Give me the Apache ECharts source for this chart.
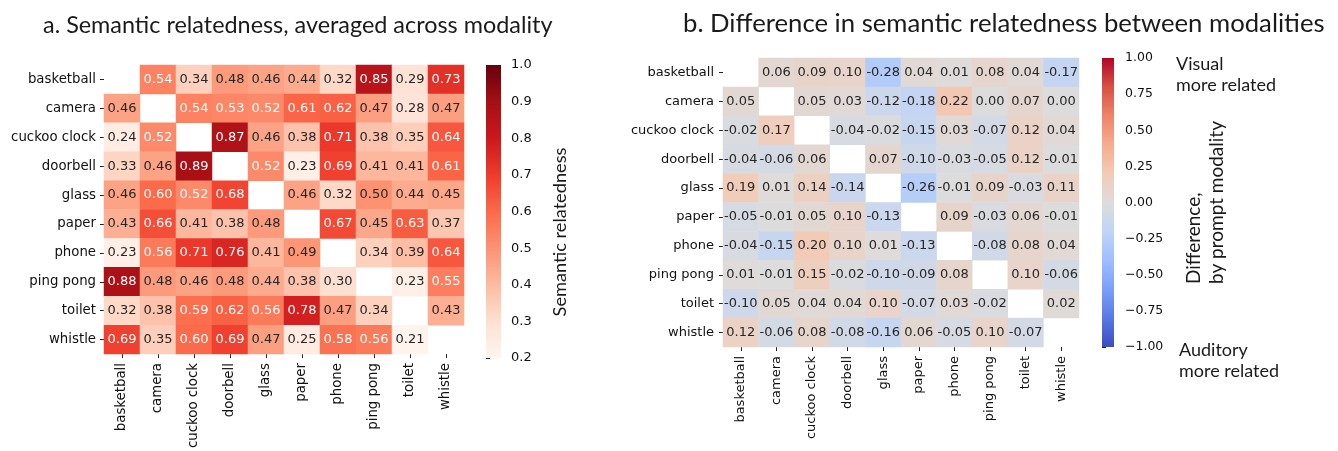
<!DOCTYPE html>
<html>
<head>
<meta charset="utf-8">
<script src="https://cdn.jsdelivr.net/npm/echarts@6/dist/echarts.min.js"></script>
<style>
  html, body { margin: 0; padding: 0; background: #ffffff; }
  #chart { width: 1338px; height: 451px; }
</style>
</head>
<body>
<div id="chart"></div>
<script>
// Object categories shared by both matrices (rows and columns)
const categories = ['basketball', 'camera', 'cuckoo clock', 'doorbell', 'glass',
  'paper', 'phone', 'ping pong', 'toilet', 'whistle'];

// a. Semantic relatedness averaged across modality (null = diagonal, not shown)
const relatedness = [
  [null, 0.54, 0.34, 0.48, 0.46, 0.44, 0.32, 0.85, 0.29, 0.73],
  [0.46, null, 0.54, 0.53, 0.52, 0.61, 0.62, 0.47, 0.28, 0.47],
  [0.24, 0.52, null, 0.87, 0.46, 0.38, 0.71, 0.38, 0.35, 0.64],
  [0.33, 0.46, 0.89, null, 0.52, 0.23, 0.69, 0.41, 0.41, 0.61],
  [0.46, 0.60, 0.52, 0.68, null, 0.46, 0.32, 0.50, 0.44, 0.45],
  [0.43, 0.66, 0.41, 0.38, 0.48, null, 0.67, 0.45, 0.63, 0.37],
  [0.23, 0.56, 0.71, 0.76, 0.41, 0.49, null, 0.34, 0.39, 0.64],
  [0.88, 0.48, 0.46, 0.48, 0.44, 0.38, 0.30, null, 0.23, 0.55],
  [0.32, 0.38, 0.59, 0.62, 0.56, 0.78, 0.47, 0.34, null, 0.43],
  [0.69, 0.35, 0.60, 0.69, 0.47, 0.25, 0.58, 0.56, 0.21, null]
];

// b. Difference (visual minus auditory prompt) in semantic relatedness
const difference = [
  [null, 0.06, 0.09, 0.10, -0.28, 0.04, 0.01, 0.08, 0.04, -0.17],
  [0.05, null, 0.05, 0.03, -0.12, -0.18, 0.22, 0.00, 0.07, 0.00],
  [-0.02, 0.17, null, -0.04, -0.02, -0.15, 0.03, -0.07, 0.12, 0.04],
  [-0.04, -0.06, 0.06, null, 0.07, -0.10, -0.03, -0.05, 0.12, -0.01],
  [0.19, 0.01, 0.14, -0.14, null, -0.26, -0.01, 0.09, -0.03, 0.11],
  [-0.05, -0.01, 0.05, 0.10, -0.13, null, 0.09, -0.03, 0.06, -0.01],
  [-0.04, -0.15, 0.20, 0.10, 0.01, -0.13, null, -0.08, 0.08, 0.04],
  [0.01, -0.01, 0.15, -0.02, -0.10, -0.09, 0.08, null, 0.10, -0.06],
  [-0.10, 0.05, 0.04, 0.04, 0.10, -0.07, 0.03, -0.02, null, 0.02],
  [0.12, -0.06, 0.08, -0.08, -0.16, 0.06, -0.05, 0.10, -0.07, null]
];

// Colour-scale ranges and tick spacing
const relRange = [0.2, 1.0];
const relTickStep = 0.1;
const diffRange = [-1.0, 1.0];
const diffTickStep = 0.25;

// Colour maps (sequential reds, diverging cool-warm)
const redsStops = ['#fff5f0', '#fee0d2', '#fcbba1', '#fc9272', '#fb6a4a',
  '#ef3b2c', '#cb181d', '#a50f15', '#67000d'];
const coolwarmStops = ['#3b4cc0', '#5a78e4', '#7b9ff9', '#9ebeff', '#c0d4f5',
  '#dddcdc', '#f2cbb7', '#f7ac8e', '#ee8468', '#d65244', '#b40426'];

const TICK_FONT = 'DejaVu Sans';
const TEXT_FONT = 'Lato';
const DARK = '#262626';

function hexToRgb(h) {
  return [parseInt(h.slice(1, 3), 16), parseInt(h.slice(3, 5), 16), parseInt(h.slice(5, 7), 16)];
}
function sampleMap(stops, t) {
  t = Math.max(0, Math.min(1, t));
  const n = stops.length - 1;
  const i = Math.min(n - 1, Math.floor(t * n));
  const f = t * n - i;
  const a = hexToRgb(stops[i]), b = hexToRgb(stops[i + 1]);
  return a.map((c, k) => c + (b[k] - c) * f);
}
// Pick dark or white annotation text from the cell's luminance
function textColorFor(stops, range, v) {
  const rgb = sampleMap(stops, (v - range[0]) / (range[1] - range[0])).map(c => {
    c /= 255;
    return c <= 0.03928 ? c / 12.92 : Math.pow((c + 0.055) / 1.055, 2.4);
  });
  const lum = 0.2126 * rgb[0] + 0.7152 * rgb[1] + 0.0722 * rgb[2];
  return lum > 0.408 ? DARK : '#ffffff';
}
function cells(matrix, stops, range) {
  const out = [];
  matrix.forEach((row, i) => row.forEach((v, j) => {
    if (v === null) return;
    out.push({ value: [j, i, v], label: { color: textColorFor(stops, range, v) } });
  }));
  return out;
}
function fmtMinus(s) { return s.replace('-', '\u2212'); }

function heatXAxis(gridIndex, margin, fontSize) {
  return {
    type: 'category', gridIndex, data: categories,
    axisLine: { show: false }, splitLine: { show: false },
    axisTick: { show: true, alignWithLabel: true, length: 4, lineStyle: { color: '#222', width: 1 } },
    axisLabel: { rotate: 90, margin, color: '#111', fontFamily: TICK_FONT, fontSize }
  };
}
function heatYAxis(gridIndex, margin, fontSize) {
  return {
    type: 'category', gridIndex, data: categories, inverse: true,
    axisLine: { show: false }, splitLine: { show: false },
    axisTick: { show: true, alignWithLabel: true, length: 4, lineStyle: { color: '#222', width: 1 } },
    axisLabel: { margin, color: '#111', fontFamily: TICK_FONT, fontSize }
  };
}
function barXAxis(gridIndex) {
  return { type: 'value', gridIndex, min: 0, max: 1, show: false };
}
function barYAxis(gridIndex, range, step, digits, fontSize, margin) {
  return {
    type: 'value', gridIndex, position: 'right', min: range[0], max: range[1], interval: step,
    axisLine: { show: false }, splitLine: { show: false },
    axisTick: { show: true, length: 4, lineStyle: { color: '#222', width: 1 } },
    axisLabel: {
      margin, color: '#111', fontFamily: TICK_FONT, fontSize,
      formatter: v => fmtMinus((Math.round(v / step) * step).toFixed(digits))
    }
  };
}
// Colour bar drawn as a gradient rectangle spanning the scale's range
function colorBar(xAxisIndex, yAxisIndex, stops, range) {
  return {
    type: 'custom', xAxisIndex, yAxisIndex, silent: true,
    data: [[0, 1, range[0], range[1]]],
    renderItem: (params, api) => {
      const p0 = api.coord([api.value(0), api.value(3)]);
      const p1 = api.coord([api.value(1), api.value(2)]);
      const n = stops.length - 1;
      const colorStops = stops.slice().reverse().map((c, k) => ({ offset: k / n, color: c }));
      return {
        type: 'rect',
        shape: { x: p0[0], y: p0[1], width: p1[0] - p0[0], height: p1[1] - p0[1] },
        style: { fill: new echarts.graphic.LinearGradient(0, 0, 0, 1, colorStops) }
      };
    }
  };
}
function heatSeries(xAxisIndex, yAxisIndex, data) {
  return {
    type: 'heatmap', xAxisIndex, yAxisIndex, data,
    label: {
      show: true, fontFamily: TICK_FONT, fontSize: 13,
      formatter: p => p.value[2].toFixed(2)
    },
    itemStyle: { borderWidth: 0 },
    emphasis: { disabled: true }
  };
}

const chart = echarts.init(document.getElementById('chart'), null, { renderer: 'canvas' });
chart.setOption({
  animation: false,
  backgroundColor: '#ffffff',
  grid: [
    { left: 104, top: 65, width: 360, height: 293 },
    { left: 486, top: 65, width: 15, height: 293 },
    { left: 723, top: 58, width: 356, height: 289 },
    { left: 1102, top: 58, width: 12, height: 289 }
  ],
  xAxis: [heatXAxis(0, 9, 13.3), barXAxis(1), heatXAxis(2, 9, 13), barXAxis(3)],
  yAxis: [
    heatYAxis(0, 8, 13.3),
    barYAxis(1, relRange, relTickStep, 1, 13, 10),
    heatYAxis(2, 9, 13),
    barYAxis(3, diffRange, diffTickStep, 2, 12.5, 11)
  ],
  visualMap: [
    { type: 'continuous', show: false, seriesIndex: 0, dimension: 2,
      min: relRange[0], max: relRange[1], inRange: { color: redsStops } },
    { type: 'continuous', show: false, seriesIndex: 2, dimension: 2,
      min: diffRange[0], max: diffRange[1], inRange: { color: coolwarmStops } }
  ],
  series: [
    heatSeries(0, 0, cells(relatedness, redsStops, relRange)),
    colorBar(1, 1, redsStops, relRange),
    heatSeries(2, 2, cells(difference, coolwarmStops, diffRange)),
    colorBar(3, 3, coolwarmStops, diffRange)
  ],
  graphic: [
    { type: 'text', x: 43, y: 25, style: {
      text: 'a. Semantic relatedness, averaged across modality',
      fontFamily: TEXT_FONT, fontSize: 23.4, fill: '#1a1a1a', textAlign: 'left', textVerticalAlign: 'middle' } },
    { type: 'text', x: 683, y: 24, style: {
      text: 'b. Difference in semantic relatedness between modalities',
      fontFamily: TEXT_FONT, fontSize: 25.7, fill: '#1a1a1a', textAlign: 'left', textVerticalAlign: 'middle' } },
    { type: 'text', x: 560, y: 232, rotation: Math.PI / 2, style: {
      text: 'Semantic relatedness',
      fontFamily: TEXT_FONT, fontSize: 18.2, fill: '#1a1a1a', textAlign: 'center', textVerticalAlign: 'middle' } },
    { type: 'text', x: 1205, y: 284, rotation: Math.PI / 2, style: {
      text: 'Difference,\nby prompt modality', lineHeight: 23,
      fontFamily: TEXT_FONT, fontSize: 19, fill: '#1a1a1a', textAlign: 'left', textVerticalAlign: 'middle' } },
    { type: 'text', x: 1176, y: 54, style: {
      text: 'Visual\nmore related', lineHeight: 21,
      fontFamily: TEXT_FONT, fontSize: 18, fill: '#1a1a1a', textAlign: 'left', textVerticalAlign: 'top' } },
    { type: 'text', x: 1179, y: 340, style: {
      text: 'Auditory\nmore related', lineHeight: 21,
      fontFamily: TEXT_FONT, fontSize: 18, fill: '#1a1a1a', textAlign: 'left', textVerticalAlign: 'top' } }
  ]
});
</script>
</body>
</html>
